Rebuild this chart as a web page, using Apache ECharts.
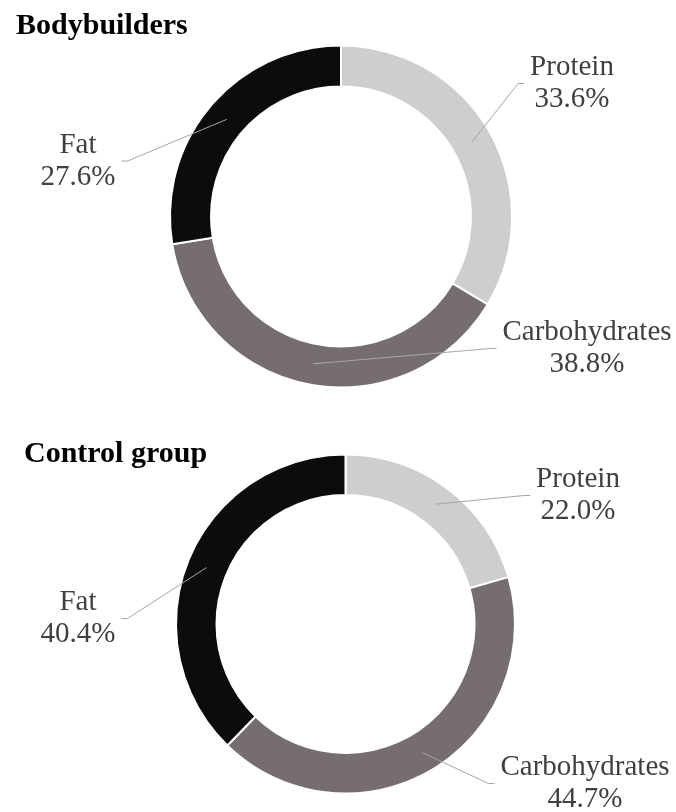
<!DOCTYPE html>
<html>
<head>
<meta charset="utf-8">
<script src="https://cdn.jsdelivr.net/npm/echarts@6/dist/echarts.min.js"></script>
<style>
  html, body { margin: 0; padding: 0; background: #fff; }
  #chart { width: 676px; height: 812px; }
</style>
</head>
<body>
<div id="chart"></div>
<script>
// ---- data ----
const categories = ['Protein', 'Carbohydrates', 'Fat'];
const bodybuilders = [33.6, 38.8, 27.6];
const controlGroup = [22.0, 44.7, 40.4];
const groupTitles = ['Bodybuilders', 'Control group'];

// ---- layout / style ----
const sliceColors = ['#cecece', '#766e6e', '#0d0b0b'];
const FONT = '"Liberation Serif", "Times New Roman", serif';
const LABEL_DY = 2.5;
const charts = [
  { values: bodybuilders, center: [341, 216.5], radius: [130, 171], lineR: 150,
    titlePos: { left: 16, top: 11 },
    // label centre offsets from the donut centre
    labelOffsets: [[231, -135.5], [246, 129.5], [-263, -58]] },
  { values: controlGroup, center: [345.5, 624], radius: [129, 169.5], lineR: 150,
    titlePos: { left: 24, top: 439 },
    labelOffsets: [[232.5, -131], [239.5, 157], [-267.5, -8]] }
];

const chart = echarts.init(document.getElementById('chart'), null, { renderer: 'canvas' });

const titles = [];
const series = [];
charts.forEach(function (c, gi) {
  titles.push({
    text: groupTitles[gi],
    left: c.titlePos.left, top: c.titlePos.top, padding: 0,
    textStyle: { fontFamily: FONT, fontSize: 30, fontWeight: 'bold', color: '#000' }
  });
  const data = categories.map(function (name, i) {
    return { name: name, value: c.values[i], itemStyle: { color: sliceColors[i] } };
  });
  // visible ring
  series.push({
    type: 'pie', z: 2, center: c.center, radius: c.radius, startAngle: 90, clockwise: true,
    silent: true, animation: false,
    label: { show: false }, labelLine: { show: false },
    itemStyle: { borderColor: '#ffffff', borderWidth: 2 },
    data: data
  });
  // invisible carrier for labels & leader lines starting mid-ring
  series.push({
    type: 'pie', z: 5, center: c.center, radius: [0, c.lineR], startAngle: 90, clockwise: true,
    silent: true, animation: false, avoidLabelOverlap: false,
    itemStyle: { color: 'rgba(0,0,0,0)', borderWidth: 0 },
    label: {
      show: true, position: 'outside',
      fontFamily: FONT, fontSize: 29, lineHeight: 32, color: '#404040',
      formatter: function (p) { return p.name + '\n' + p.value.toFixed(1) + '%'; }
    },
    labelLine: { show: true, length: 10, length2: 10, lineStyle: { color: '#a6a6a6', width: 1 } },
    labelLayout: function (params) {
      const off = c.labelOffsets[params.dataIndex];
      const x = c.center[0] + off[0];
      const y = c.center[1] + off[1] + LABEL_DY;
      const w = params.labelRect.width;
      const start = params.labelLinePoints[0];
      const right = off[0] > 0;
      const endX = right ? x - w / 2 - 6 : x + w / 2 + 6;
      const cornerX = right ? endX - 6 : endX + 6;
      return {
        x: x, y: y, align: 'center', verticalAlign: 'middle',
        labelLinePoints: [[start[0], start[1]], [cornerX, y], [endX, y]]
      };
    },
    data: data.map(function (d) { return { name: d.name, value: d.value }; })
  });
});

chart.setOption({
  backgroundColor: '#ffffff',
  animation: false,
  title: titles,
  series: series
});
</script>
</body>
</html>
